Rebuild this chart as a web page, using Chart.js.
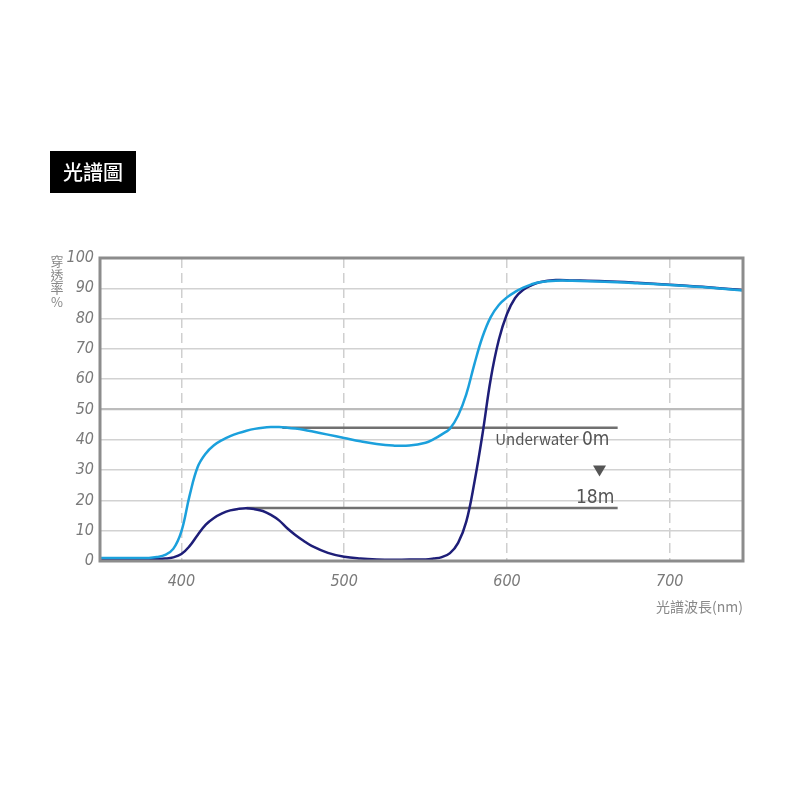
<!DOCTYPE html>
<html>
<head>
<meta charset="utf-8">
<title>光譜圖</title>
<script src="https://cdn.jsdelivr.net/npm/chart.js@4.4.1/dist/chart.umd.min.js"></script>
<style>
  html, body { margin: 0; padding: 0; background: #fff; }
  #wrap { width: 800px; height: 800px; position: relative; }
</style>
</head>
<body>
<div id="wrap"><canvas id="spectrum" width="800" height="800"></canvas></div>
<script>
// 波長 (nm)
const wavelengths = [350, 360, 370, 380, 385, 390, 395, 400, 405, 410, 415, 420, 425, 430, 435, 440, 445, 450, 455, 460,
  465, 470, 475, 480, 490, 500, 510, 520, 530, 540, 550, 555, 560, 565, 570, 575, 580, 585, 590, 595,
  600, 605, 610, 615, 620, 630, 640, 660, 680, 700, 720, 745];

// Underwater 0m (淺藍)
const shallowValues = [1, 1, 1, 1, 1.3, 2, 4, 9.8, 21.5, 31, 35.5, 38.2, 39.9, 41.2, 42.2, 43, 43.6, 44, 44.2, 44.2,
  44, 43.7, 43.3, 42.8, 41.7, 40.6, 39.5, 38.6, 38.1, 38.1, 39, 40.2, 41.8, 43.7, 48, 55, 65, 74, 80.5, 84.5,
  87, 88.8, 90.2, 91.3, 92, 92.5, 92.5, 92.2, 91.7, 91.1, 90.4, 89.3];

// 18m (深藍)
const deepValues = [0.6, 0.6, 0.6, 0.6, 0.65, 0.8, 1.2, 2.3, 4.9, 8.6, 12, 14.2, 15.7, 16.7, 17.2, 17.4, 17.1, 16.5, 15.2, 13.4,
  10.8, 8.6, 6.7, 5, 2.7, 1.4, 0.8, 0.5, 0.4, 0.5, 0.5, 0.8, 1.3, 2.6, 6, 13, 26, 42, 60, 73,
  81.5, 86.8, 89.5, 91, 92, 92.7, 92.6, 92.3, 91.8, 91.2, 90.5, 89.4];

const xTicks = [400, 500, 600, 700];
const yTicks = [0, 10, 20, 30, 40, 50, 60, 70, 80, 90, 100];

// 參考線: [值, 起點波長, 終點波長]
const refLine0m = [44, 462, 668];
const refLine18m = [17.5, 440, 668];

const toPoints = (vals) => wavelengths.map((w, i) => ({ x: w, y: vals[i] }));

const narrow = '"DejaVu Sans Condensed", "Liberation Sans Narrow", "Liberation Sans", sans-serif';
const cjk = '"Noto Sans CJK TC", "Noto Sans CJK SC", sans-serif';

// 📌 參考線 / 標題 / 外框
const decorPlugin = {
  id: 'decor',
  beforeDatasetsDraw(chart) {
    const { ctx, scales: { x, y } } = chart;
    ctx.save();
    ctx.strokeStyle = '#707070';
    ctx.lineWidth = 2.5;
    [refLine0m, refLine18m].forEach(([v, a, b]) => {
      ctx.beginPath();
      ctx.moveTo(x.getPixelForValue(a), y.getPixelForValue(v));
      ctx.lineTo(x.getPixelForValue(b), y.getPixelForValue(v));
      ctx.stroke();
    });
    ctx.restore();
  },
  afterDatasetsDraw(chart) {
    const { ctx, chartArea: ca, scales: { x, y } } = chart;
    ctx.save();
    // 外框
    ctx.strokeStyle = '#8c8c8c';
    ctx.lineWidth = 3;
    ctx.strokeRect(ca.left, ca.top, ca.right - ca.left, ca.bottom - ca.top);

    // 標註文字
    const right = x.getPixelForValue(663);
    ctx.fillStyle = '#555';
    ctx.textBaseline = 'alphabetic';
    ctx.textAlign = 'right';
    ctx.font = '19px ' + narrow;
    const base0 = y.getPixelForValue(38.2);
    ctx.fillText('0m', right, base0);
    const w0 = ctx.measureText('0m').width;
    ctx.font = '15px "Noto Sans CJK KR", "Noto Sans", sans-serif';
    ctx.fillText('Underwater ', right - w0, base0);

    // ▼
    const tx = right - 10, ty = y.getPixelForValue(31.5);
    ctx.beginPath();
    ctx.moveTo(tx - 6.5, ty);
    ctx.lineTo(tx + 6.5, ty);
    ctx.lineTo(tx, ty + 11);
    ctx.closePath();
    ctx.fill();

    ctx.font = '19px ' + narrow;
    ctx.fillText('18m', x.getPixelForValue(666), y.getPixelForValue(19.3));

    // 軸標題
    ctx.fillStyle = '#888';
    ctx.textAlign = 'center';
    ctx.font = '13px ' + cjk;
    ['穿', '透', '率', '%'].forEach((ch, i) => {
      ctx.fillText(ch, 57, 266 + i * 13.5);
    });
    ctx.textAlign = 'right';
    ctx.font = '14px ' + cjk;
    ctx.fillText('光譜波長(nm)', ca.right, 612);

    // 圖表標題
    ctx.fillStyle = '#000';
    ctx.fillRect(50, 151, 86, 42);
    ctx.fillStyle = '#fff';
    ctx.textAlign = 'center';
    ctx.textBaseline = 'middle';
    ctx.font = '500 20px ' + cjk;
    ctx.fillText('光譜圖', 93, 172);
    ctx.restore();
  }
};

new Chart(document.getElementById('spectrum'), {
  type: 'line',
  data: {
    datasets: [
      {
        label: 'Underwater 0m',
        data: toPoints(shallowValues),
        borderColor: '#1ba0dc',
        borderWidth: 2.5,
        pointRadius: 0,
        tension: 0.4,
        fill: false
      },
      {
        label: '18m',
        data: toPoints(deepValues),
        borderColor: '#1e1e78',
        borderWidth: 2.5,
        pointRadius: 0,
        tension: 0.4,
        fill: false
      }
    ]
  },
  options: {
    responsive: false,
    animation: false,
    devicePixelRatio: 1,
    layout: { padding: { left: 0, top: 258, right: 57, bottom: 0 } },
    plugins: { legend: { display: false }, tooltip: { enabled: false } },
    scales: {
      x: {
        type: 'linear',
        min: 350,
        max: 745,
        afterBuildTicks: (s) => { s.ticks = xTicks.map(v => ({ value: v })); },
        afterFit: (s) => { s.height = 239; },
        border: { display: false, dash: [10, 5] },
        grid: { color: '#cfcfcf', lineWidth: 1.5, drawTicks: false },
        ticks: {
          padding: 11,
          color: '#7a7a7a',
          font: { family: narrow, size: 16, style: 'italic' }
        }
      },
      y: {
        min: 0,
        max: 100,
        afterBuildTicks: (s) => { s.ticks = yTicks.map(v => ({ value: v })); },
        afterFit: (s) => { s.width = 100; },
        border: { display: false },
        grid: {
          drawTicks: false,
          color: (c) => c.tick && c.tick.value === 50 ? '#bcbcbc' : '#d2d2d2',
          lineWidth: (c) => c.tick && c.tick.value === 50 ? 2.2 : 1.5
        },
        ticks: {
          padding: 6,
          color: '#7a7a7a',
          font: { family: narrow, size: 16, style: 'italic' }
        }
      }
    }
  },
  plugins: [decorPlugin]
});
</script>
</body>
</html>
